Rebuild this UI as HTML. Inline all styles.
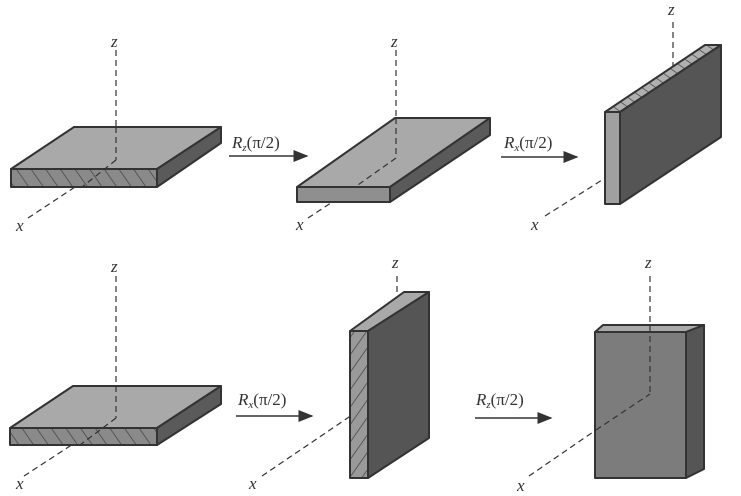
<!DOCTYPE html>
<html><head><meta charset="utf-8"><style>
html,body{margin:0;padding:0;background:#fff}
svg{display:block}
text{font-family:"Liberation Serif",serif;font-style:italic;fill:#333}
</style></head><body>
<svg width="741" height="496" viewBox="0 0 741 496" xmlns="http://www.w3.org/2000/svg">
<defs>
<pattern id="hatch" patternUnits="userSpaceOnUse" width="12" height="12" patternTransform="rotate(-35)">
<rect width="12" height="12" fill="#8a8a8a"/><line x1="0" y1="0" x2="0" y2="12" stroke="#444" stroke-width="1.5"/>
</pattern>
<pattern id="hatch2" patternUnits="userSpaceOnUse" width="10" height="10" patternTransform="rotate(35)">
<rect width="10" height="10" fill="#9a9a9a"/><line x1="0" y1="0" x2="0" y2="10" stroke="#444" stroke-width="1.5"/>
</pattern>
<pattern id="hatch3" patternUnits="userSpaceOnUse" width="8" height="8" patternTransform="rotate(-55)">
<rect width="8" height="8" fill="#b0b0b0"/><line x1="0" y1="0" x2="0" y2="8" stroke="#444" stroke-width="1.5"/>
</pattern>
<marker id="ah" markerWidth="10" markerHeight="8" refX="9" refY="4" orient="auto"><path d="M0,0 L10,4 L0,8 Z" fill="#333"/></marker>
</defs>
<g stroke="#333" stroke-width="1.2" stroke-dasharray="6,4" fill="none">
<line x1="116" y1="50" x2="116" y2="160"/>
<line x1="28" y1="218" x2="116" y2="160"/>
<line x1="396" y1="50" x2="396" y2="160"/>
<line x1="308" y1="218" x2="396" y2="160"/>
<line x1="673" y1="22" x2="673" y2="70"/>
<line x1="545" y1="216" x2="610" y2="175"/>
<line x1="116" y1="276" x2="116" y2="416"/>
<line x1="24" y1="476" x2="116" y2="416"/>
<line x1="397" y1="276" x2="397" y2="295"/>
<line x1="262" y1="476" x2="352" y2="415"/>
<line x1="529" y1="476" x2="596" y2="430"/>
</g>
<g stroke="#333" stroke-width="2" stroke-linejoin="round">
<polygon points="11,169 74,127 221,127 157,169" fill="#a9a9a9"/>
<polygon points="11,169 157,169 157,187 11,187" fill="url(#hatch)"/>
<polygon points="157,169 221,127 221,143 157,187" fill="#5a5a5a"/>
<polygon points="297,187 395,118 490,118 390,187" fill="#a9a9a9"/>
<polygon points="297,187 390,187 390,202 297,202" fill="#8f8f8f"/>
<polygon points="390,187 490,118 490,135 390,202" fill="#5a5a5a"/>
<polygon points="605,112 705,45 721,45 620,112" fill="url(#hatch3)"/>
<polygon points="605,112 620,112 620,204 605,204" fill="#a0a0a0"/>
<polygon points="620,112 721,45 721,137 620,204" fill="#555"/>
<polygon points="10,428 73,386 221,386 157,428" fill="#a9a9a9"/>
<polygon points="10,428 157,428 157,445 10,445" fill="url(#hatch)"/>
<polygon points="157,428 221,386 221,404 157,445" fill="#5a5a5a"/>
<polygon points="350,331 404,292 429,292 368,331" fill="#a9a9a9"/>
<polygon points="350,331 368,331 368,478 350,478" fill="url(#hatch2)"/>
<polygon points="368,331 429,292 429,438 368,478" fill="#555"/>
<polygon points="595,332 603,325 704,325 686,332" fill="#a9a9a9"/>
<polygon points="595,332 686,332 686,478 595,478" fill="#7c7c7c"/>
<polygon points="686,332 704,325 704,469 686,478" fill="#555"/>
</g>
<g stroke="#333" stroke-width="1.2" stroke-dasharray="6,4" fill="none">
<line x1="116" y1="127" x2="116" y2="160"/>
<line x1="116" y1="160" x2="82" y2="187"/>
<line x1="396" y1="118" x2="396" y2="158"/>
<line x1="396" y1="158" x2="355" y2="187"/>
<line x1="116" y1="386" x2="116" y2="418"/>
<line x1="116" y1="418" x2="80" y2="445"/>
<line x1="650" y1="276" x2="650" y2="394"/>
<line x1="596" y1="430" x2="650" y2="394"/>
</g>
<g stroke="#333" stroke-width="1.5" marker-end="url(#ah)">
<line x1="229" y1="156" x2="307" y2="156"/>
<line x1="501" y1="157" x2="577" y2="157"/>
<line x1="236" y1="416" x2="312" y2="416"/>
<line x1="475" y1="418" x2="551" y2="418"/>
</g>
<g font-size="17">
<text x="232" y="148">R<tspan font-size="11" dy="3">z</tspan><tspan dy="-3" font-style="normal">(π/2)</tspan></text>
<text x="504" y="148">R<tspan font-size="11" dy="3">x</tspan><tspan dy="-3" font-style="normal">(π/2)</tspan></text>
<text x="238" y="405">R<tspan font-size="11" dy="3">x</tspan><tspan dy="-3" font-style="normal">(π/2)</tspan></text>
<text x="476" y="405">R<tspan font-size="11" dy="3">z</tspan><tspan dy="-3" font-style="normal">(π/2)</tspan></text>
</g>
<g font-size="17">
<text x="111" y="47">z</text>
<text x="16" y="231">x</text>
<text x="391" y="47">z</text>
<text x="296" y="230">x</text>
<text x="668" y="15">z</text>
<text x="531" y="230">x</text>
<text x="111" y="272">z</text>
<text x="16" y="489">x</text>
<text x="392" y="268">z</text>
<text x="249" y="489">x</text>
<text x="645" y="268">z</text>
<text x="517" y="491">x</text>
</g>
</svg>
</body></html>
